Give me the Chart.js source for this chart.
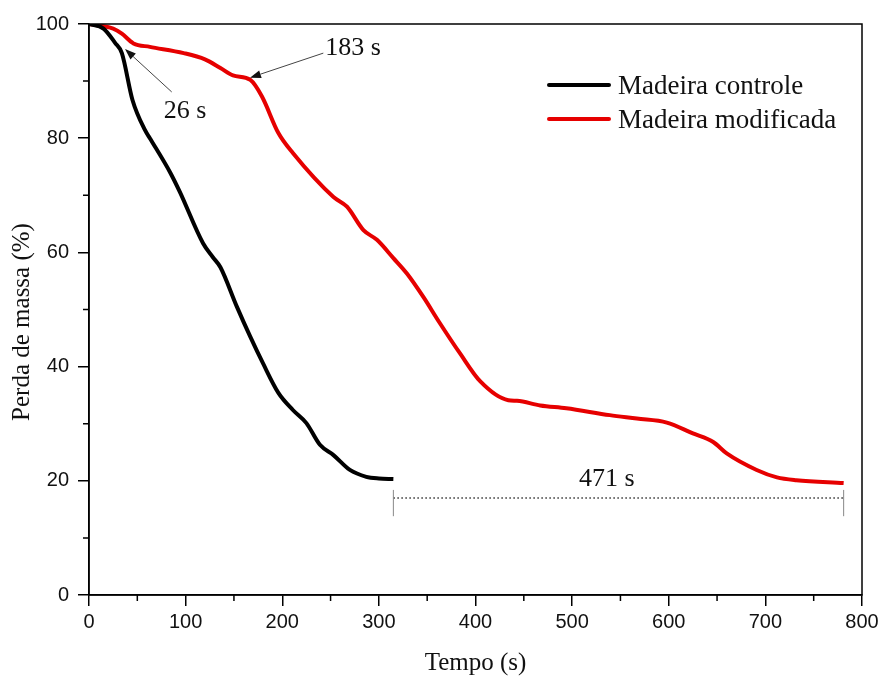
<!DOCTYPE html>
<html>
<head>
<meta charset="utf-8">
<script src="https://cdn.jsdelivr.net/npm/chart.js@4/dist/chart.umd.min.js"></script>
<style>
  html, body { margin: 0; padding: 0; background: #fff; }
  #wrap { width: 881px; height: 682px; }
</style>
</head>
<body>
<div id="wrap"><canvas id="massChart" width="881" height="682"></canvas></div>
<script>
// Mass loss vs time - control vs modified wood

const controleTime = [0, 15, 27, 34, 45, 58, 63, 84, 94, 118, 128, 136, 153, 167, 180, 196, 211, 225, 239, 253, 270, 287, 300, 315]
const controleMass = [100, 99.2, 96.7, 94.9, 86.7, 81.4, 80, 74, 70.6, 61.6, 59.2, 57.4, 50.5, 45.2, 40.6, 35.4, 32.4, 30.1, 26.3, 24.5, 21.9, 20.7, 20.4, 20.3]

const modifTime = [0, 25, 34, 46, 63, 98, 120, 136, 149, 167, 179, 196, 211, 253, 267, 284, 298, 315, 329, 346, 362, 384, 405, 434, 443, 467, 494, 539, 567, 598, 625, 646, 660, 691, 712, 732, 781]
const modifMass = [100, 99.2, 98.3, 96.6, 96, 94.9, 93.8, 92.3, 91, 90.2, 87.3, 80.9, 77.4, 69.7, 68, 63.9, 62.2, 59, 56.3, 52.2, 47.9, 42.3, 37.4, 34.1, 34, 33.2, 32.7, 31.5, 30.9, 30.2, 28.3, 26.8, 24.8, 21.9, 20.6, 20.1, 19.6]

const seriesLabels = ["Madeira controle", "Madeira modificada"]

// annotations, in data units (s, %)
const annotTexts = ["26 s", "183 s", "471 s"]
const annotX = [99.3, 273.2, 536]
const annotY = [84.8, 95.8, 20.3]
const arrowFromX = [85.6, 242.5]
const arrowFromY = [88.1, 94.9]
const arrowToX = [37.3, 166.6]
const arrowToY = [95.6, 90.6]
const bracketX = [315, 781]
const bracketY = 17
const bracketTickY = [13.8, 18.4]

const serif = "'Liberation Serif', 'Times New Roman', serif"
const sans = "'Liberation Sans', Arial, sans-serif"

const toPoints = (xs, ys) => xs.map((x, i) => ({ x: x, y: ys[i] }))

// frame, minor ticks, annotations and legend
const extrasPlugin = {
  id: "extras",
  afterDraw(chart) {
    const ctx = chart.ctx
    const area = chart.chartArea
    const xs = chart.scales.x
    const ys = chart.scales.y
    ctx.save()

    // box around the plot
    ctx.strokeStyle = "#000"
    ctx.lineWidth = 1.5
    ctx.strokeRect(area.left, area.top, area.right - area.left, area.bottom - area.top)

    // minor ticks (shorter)
    ctx.beginPath()
    xs.ticks.forEach((t) => {
      if (t.value % 100 !== 0) {
        const px = xs.getPixelForValue(t.value)
        ctx.moveTo(px, area.bottom)
        ctx.lineTo(px, area.bottom + 6)
      }
    })
    ys.ticks.forEach((t) => {
      if (t.value % 20 !== 0) {
        const py = ys.getPixelForValue(t.value)
        ctx.moveTo(area.left, py)
        ctx.lineTo(area.left - 6, py)
      }
    })
    ctx.stroke()

    // arrows
    for (let i = 0; i < arrowFromX.length; i++) {
      const x1 = xs.getPixelForValue(arrowFromX[i])
      const y1 = ys.getPixelForValue(arrowFromY[i])
      const x2 = xs.getPixelForValue(arrowToX[i])
      const y2 = ys.getPixelForValue(arrowToY[i])
      const ang = Math.atan2(y2 - y1, x2 - x1)
      const len = 11
      const bx = x2 - len * Math.cos(ang)
      const by = y2 - len * Math.sin(ang)
      ctx.strokeStyle = "#444"
      ctx.lineWidth = 1
      ctx.beginPath()
      ctx.moveTo(x1, y1)
      ctx.lineTo(bx, by)
      ctx.stroke()
      ctx.fillStyle = "#111"
      ctx.beginPath()
      ctx.moveTo(x2, y2)
      ctx.lineTo(bx + 4 * Math.sin(ang), by - 4 * Math.cos(ang))
      ctx.lineTo(bx - 4 * Math.sin(ang), by + 4 * Math.cos(ang))
      ctx.closePath()
      ctx.fill()
    }

    // bracket for 471 s
    const bx1 = xs.getPixelForValue(bracketX[0])
    const bx2 = xs.getPixelForValue(bracketX[1])
    const by = ys.getPixelForValue(bracketY)
    ctx.strokeStyle = "#333"
    ctx.lineWidth = 1.5
    ctx.setLineDash([1.5, 2.5])
    ctx.beginPath()
    ctx.moveTo(bx1, by)
    ctx.lineTo(bx2, by)
    ctx.stroke()
    ctx.setLineDash([])
    ctx.strokeStyle = "#888"
    ctx.lineWidth = 1
    ctx.beginPath()
    ;[bx1, bx2].forEach((px) => {
      ctx.moveTo(px, ys.getPixelForValue(bracketTickY[0]))
      ctx.lineTo(px, ys.getPixelForValue(bracketTickY[1]))
    })
    ctx.stroke()

    // annotation texts
    ctx.fillStyle = "#111"
    ctx.font = "26px " + serif
    ctx.textAlign = "center"
    ctx.textBaseline = "middle"
    annotTexts.forEach((txt, i) => {
      ctx.fillText(txt, xs.getPixelForValue(annotX[i]), ys.getPixelForValue(annotY[i]))
    })

    // legend
    ctx.font = "27px " + serif
    ctx.textAlign = "left"
    chart.data.datasets.forEach((ds, i) => {
      const ly = 85 + i * 34
      ctx.strokeStyle = ds.borderColor
      ctx.lineWidth = 4
      ctx.lineCap = "round"
      ctx.beginPath()
      ctx.moveTo(549, ly)
      ctx.lineTo(609, ly)
      ctx.stroke()
      ctx.fillStyle = "#111"
      ctx.fillText(ds.label, 618, ly + 2)
    })

    ctx.restore()
  },
}

document.addEventListener("DOMContentLoaded", () => {
  const ctx = document.getElementById("massChart").getContext("2d")

  new Chart(ctx, {
    type: "line",
    data: {
      datasets: [
        {
          label: seriesLabels[0],
          data: toPoints(controleTime, controleMass),
          borderColor: "#000000",
          borderWidth: 4,
          pointRadius: 0,
          cubicInterpolationMode: "monotone",
        },
        {
          label: seriesLabels[1],
          data: toPoints(modifTime, modifMass),
          borderColor: "#e60000",
          borderWidth: 4,
          pointRadius: 0,
          cubicInterpolationMode: "monotone",
        },
      ],
    },
    options: {
      responsive: false,
      animation: false,
      layout: { padding: { top: 24, right: 19, left: 0, bottom: 0 } },
      plugins: {
        legend: { display: false },
        tooltip: { enabled: false },
      },
      scales: {
        x: {
          type: "linear",
          min: 0,
          max: 800,
          afterFit: (scale) => {
            scale.height = 87
            scale.paddingRight = 0
          },
          border: { color: "#000", width: 1.5 },
          grid: {
            drawOnChartArea: false,
            tickLength: 11,
            lineWidth: 1.5,
            color: (c) => (c.tick && c.tick.value % 100 === 0 ? "#000" : "rgba(0,0,0,0)"),
          },
          ticks: {
            stepSize: 50,
            autoSkip: false,
            maxRotation: 0,
            padding: 4,
            color: "#111",
            font: { family: sans, size: 20 },
            callback: (v) => (v % 100 === 0 ? v : ""),
          },
          title: {
            display: true,
            text: "Tempo (s)",
            color: "#111",
            font: { family: serif, size: 25 },
            padding: { top: 0, bottom: 4 },
          },
        },
        y: {
          min: 0,
          max: 100,
          afterFit: (scale) => { scale.width = 89 },
          border: { color: "#000", width: 1.5 },
          grid: {
            drawOnChartArea: false,
            tickLength: 11,
            lineWidth: 1.5,
            color: (c) => (c.tick && c.tick.value % 20 === 0 ? "#000" : "rgba(0,0,0,0)"),
          },
          ticks: {
            stepSize: 10,
            autoSkip: false,
            padding: 9,
            color: "#111",
            font: { family: sans, size: 20 },
            callback: (v) => (v % 20 === 0 ? v : ""),
          },
          title: {
            display: true,
            text: "Perda de massa (%)    ",
            color: "#111",
            font: { family: serif, size: 25 },
            padding: { top: 7, bottom: 0 },
          },
        },
      },
    },
    plugins: [extrasPlugin],
  })
})
</script>
</body>
</html>
